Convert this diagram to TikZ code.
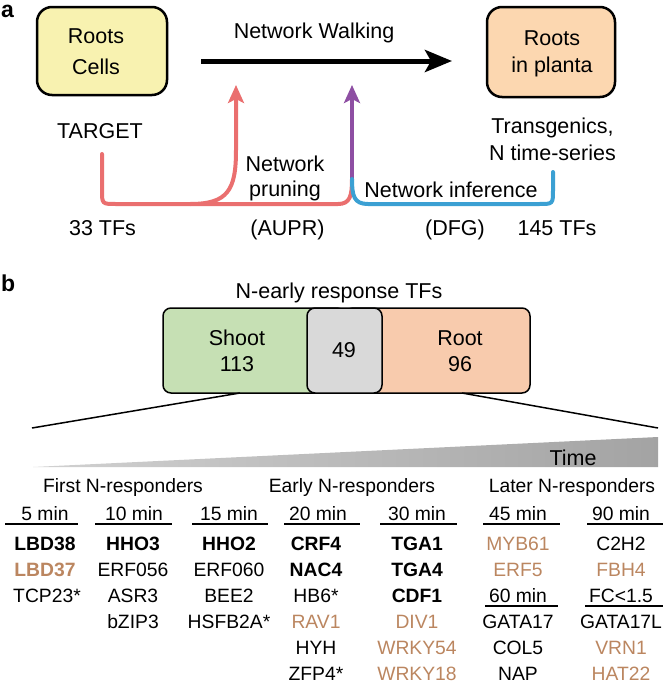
\documentclass[tikz,border=0pt]{standalone}
\usepackage{fontspec}
\setmainfont{Liberation Sans}
\usetikzlibrary{arrows.meta}
\definecolor{boxyellow}{HTML}{F8F2B0}
\definecolor{boxorange}{HTML}{FCD7B0}
\definecolor{shootgreen}{HTML}{C6E0B4}
\definecolor{midgray}{HTML}{D9D9D9}
\definecolor{rootorange}{HTML}{F8CBAD}
\definecolor{redpath}{HTML}{EA6F6F}
\definecolor{bluepath}{HTML}{3BA0D3}
\definecolor{purplepath}{HTML}{8E4FA3}
\definecolor{brownt}{HTML}{BB8660}
\begin{document}
\begin{tikzpicture}[x=1pt,y=-1pt,
  big/.style={font=\fontsize{21.5}{24}\selectfont, anchor=base, inner sep=0pt},
  lst/.style={font=\fontsize{19.3}{22}\selectfont, anchor=base, inner sep=0pt},
  bl/.style={lst, font=\fontsize{19.3}{22}\selectfont\bfseries},
  br/.style={lst, text=brownt},
  bbr/.style={bl, text=brownt},
  panel/.style={font=\fontsize{23}{26}\selectfont\bfseries, anchor=base west, inner sep=0pt},
  topbox/.style={draw, line width=2.5pt, rounded corners=15pt, inner sep=0pt},
  vbox/.style={draw, line width=1.5pt, rounded corners=8pt, inner sep=0pt, minimum height=85pt},
  cline/.style={line width=4pt, line cap=round},
  ctip/.style={-{Stealth[length=18pt,width=16pt,inset=4pt]}},
  uline/.style={line width=1.8pt},
  fan/.style={line width=1.5pt},
]
\useasboundingbox (0,0) rectangle (665,691);

% ---------------- panel a ----------------
\node[panel] (pa) at (1,17) {a};

\node[topbox, fill=boxyellow, minimum width=130pt, minimum height=88pt] (cells) at (102,51) {};
\node[big] (c1) at (96,43) {Roots};
\node[big] (c2) at (96,74) {Cells};

\node[topbox, fill=boxorange, minimum width=128pt, minimum height=90pt] (planta) at (551,52) {};
\node[big] (p1) at (552,45) {Roots};
\node[big] (p2) at (552,72) {in planta};

\node[big] (walk) at (314,38) {Network Walking};
\coordinate (ws) at (201,61);
\coordinate (we) at (452,61);
\draw[line width=5pt, -{Stealth[length=27pt,width=22pt,inset=6pt]}] (ws) -- (we);

\node[big] (target) at (100,138) {TARGET};
\node[big] (tr1) at (552.5,133) {Transgenics,};
\node[big] (tr2) at (552.5,160) {N time-series};
\node[big] (np1) at (285,171) {Network};
\node[big] (np2) at (285,196) {pruning};
\node[big] (ni) at (451,197) {Network inference};
\node[big] (tf33) at (102.5,235) {33 TFs};
\node[big] (aupr) at (287.5,235) {(AUPR)};
\node[big] (dfg) at (455,235) {(DFG)};
\node[big] (tf145) at (557,235) {145 TFs};

\coordinate (rs) at (102,154);
\coordinate (rj) at (352,179);
\coordinate (rtip) at (236,85);
\coordinate (ptip) at (352,85);
\coordinate (bs) at (553,172);

% red main path
\draw[cline, redpath] (rs) -- (102,190) .. controls (102,204) and (102,204) .. (116,204)
  -- (338,204) .. controls (350,204) and (352,196) .. (rj);
% red branch
\draw[cline, redpath, ctip, line cap=butt] (190,204) .. controls (228,204) and (236,190) .. (236,150) -- (rtip);
% purple
\draw[line width=4pt, purplepath, ctip] (rj) -- (ptip);
% blue
\draw[cline, bluepath] (rj) .. controls (352,196) and (354,204) .. (368,204) -- (539,204)
  .. controls (553,204) and (553,204) .. (553,190) -- (bs);

% ---------------- panel b ----------------
\node[panel] (pb) at (1,291) {b};
\node[big] (title) at (339,298) {N-early response TFs};

\node[vbox, fill=shootgreen, minimum width=182pt] (shoot) at (254,350.5) {};
\node[vbox, fill=rootorange, minimum width=185pt] (root) at (437.5,350.5) {};
\node[vbox, fill=midgray, minimum width=75pt] (both) at (344.5,350.5) {};
\node[big] (s1) at (237,345) {Shoot};
\node[big] (s2) at (237,371) {113};
\node[big] (m1) at (344,357) {49};
\node[big] (r1) at (460,345) {Root};
\node[big] (r2) at (460,371) {96};

\coordinate (fl) at (32,428);
\coordinate (fr) at (658,428);
\draw[fan] (240,393) -- (fl);
\draw[fan] (462,393) -- (fr);

\shade[left color=black!18, right color=black!36] (33,467) -- (658,437) -- (658,467) -- cycle;
\node[big] (time) at (573,465) {Time};

\node[lst] (g1) at (123,492) {First N-responders};
\node[lst] (g2) at (352,492) {Early N-responders};
\node[lst] (g3) at (572,492) {Later N-responders};

% headers
\node[lst] (h1) at (45,520) {5 min};
\node[lst] (h2) at (134,520) {10 min};
\node[lst] (h3) at (229,520) {15 min};
\node[lst] (h4) at (318,520) {20 min};
\node[lst] (h5) at (417,520) {30 min};
\node[lst] (h6) at (518,520) {45 min};
\node[lst] (h7) at (621,520) {90 min};
\draw[uline] (5,524) -- (78,524);
\draw[uline] (95,524) -- (172,524);
\draw[uline] (192,524) -- (268,524);
\draw[uline] (284,524) -- (360,524);
\draw[uline] (380,524) -- (457,524);
\draw[uline] (483,524) -- (560,524);
\draw[uline] (587,524) -- (663,524);

% column 1
\node[bl] (a1) at (45,550) {LBD38};
\node[bbr] (a2) at (45,576) {LBD37};
\node[lst] (a3) at (47,602) {TCP23*};
% column 2
\node[bl] (b1) at (133,550) {HHO3};
\node[lst] (b2) at (133,576) {ERF056};
\node[lst] (b3) at (133,602) {ASR3};
\node[lst] (b4) at (133,628) {bZIP3};
% column 3
\node[bl] (d1) at (229,550) {HHO2};
\node[lst] (d2) at (229,576) {ERF060};
\node[lst] (d3) at (229,602) {BEE2};
\node[lst] (d4) at (229,628) {HSFB2A*};
% column 4
\node[bl] (e1) at (316,550) {CRF4};
\node[bl] (e2) at (316,576) {NAC4};
\node[lst] (e3) at (316,602) {HB6*};
\node[br] (e4) at (316,628) {RAV1};
\node[lst] (e5) at (316,654) {HYH};
\node[lst] (e6) at (316,680) {ZFP4*};
% column 5
\node[bl] (f1) at (417,550) {TGA1};
\node[bl] (f2) at (417,576) {TGA4};
\node[bl] (f3) at (417,602) {CDF1};
\node[br] (f4) at (417,628) {DIV1};
\node[br] (f5) at (417,654) {WRKY54};
\node[br] (f6) at (417,680) {WRKY18};
% column 6
\node[br] (k1) at (518,550) {MYB61};
\node[br] (k2) at (518,576) {ERF5};
\node[lst] (k3) at (518,602) {60 min};
\draw[uline] (485,606) -- (558,606);
\node[lst] (k4) at (518,628) {GATA17};
\node[lst] (k5) at (518,654) {COL5};
\node[lst] (k6) at (518,680) {NAP};
% column 7
\node[lst] (q1) at (621,550) {C2H2};
\node[br] (q2) at (621,576) {FBH4};
\node[lst] (q3) at (621,602) {FC<1.5};
\draw[uline] (585,606) -- (663,606);
\node[lst] (q4) at (621,628) {GATA17L};
\node[br] (q5) at (621,654) {VRN1};
\node[br] (q6) at (621,680) {HAT22};
\end{tikzpicture}
\end{document}
